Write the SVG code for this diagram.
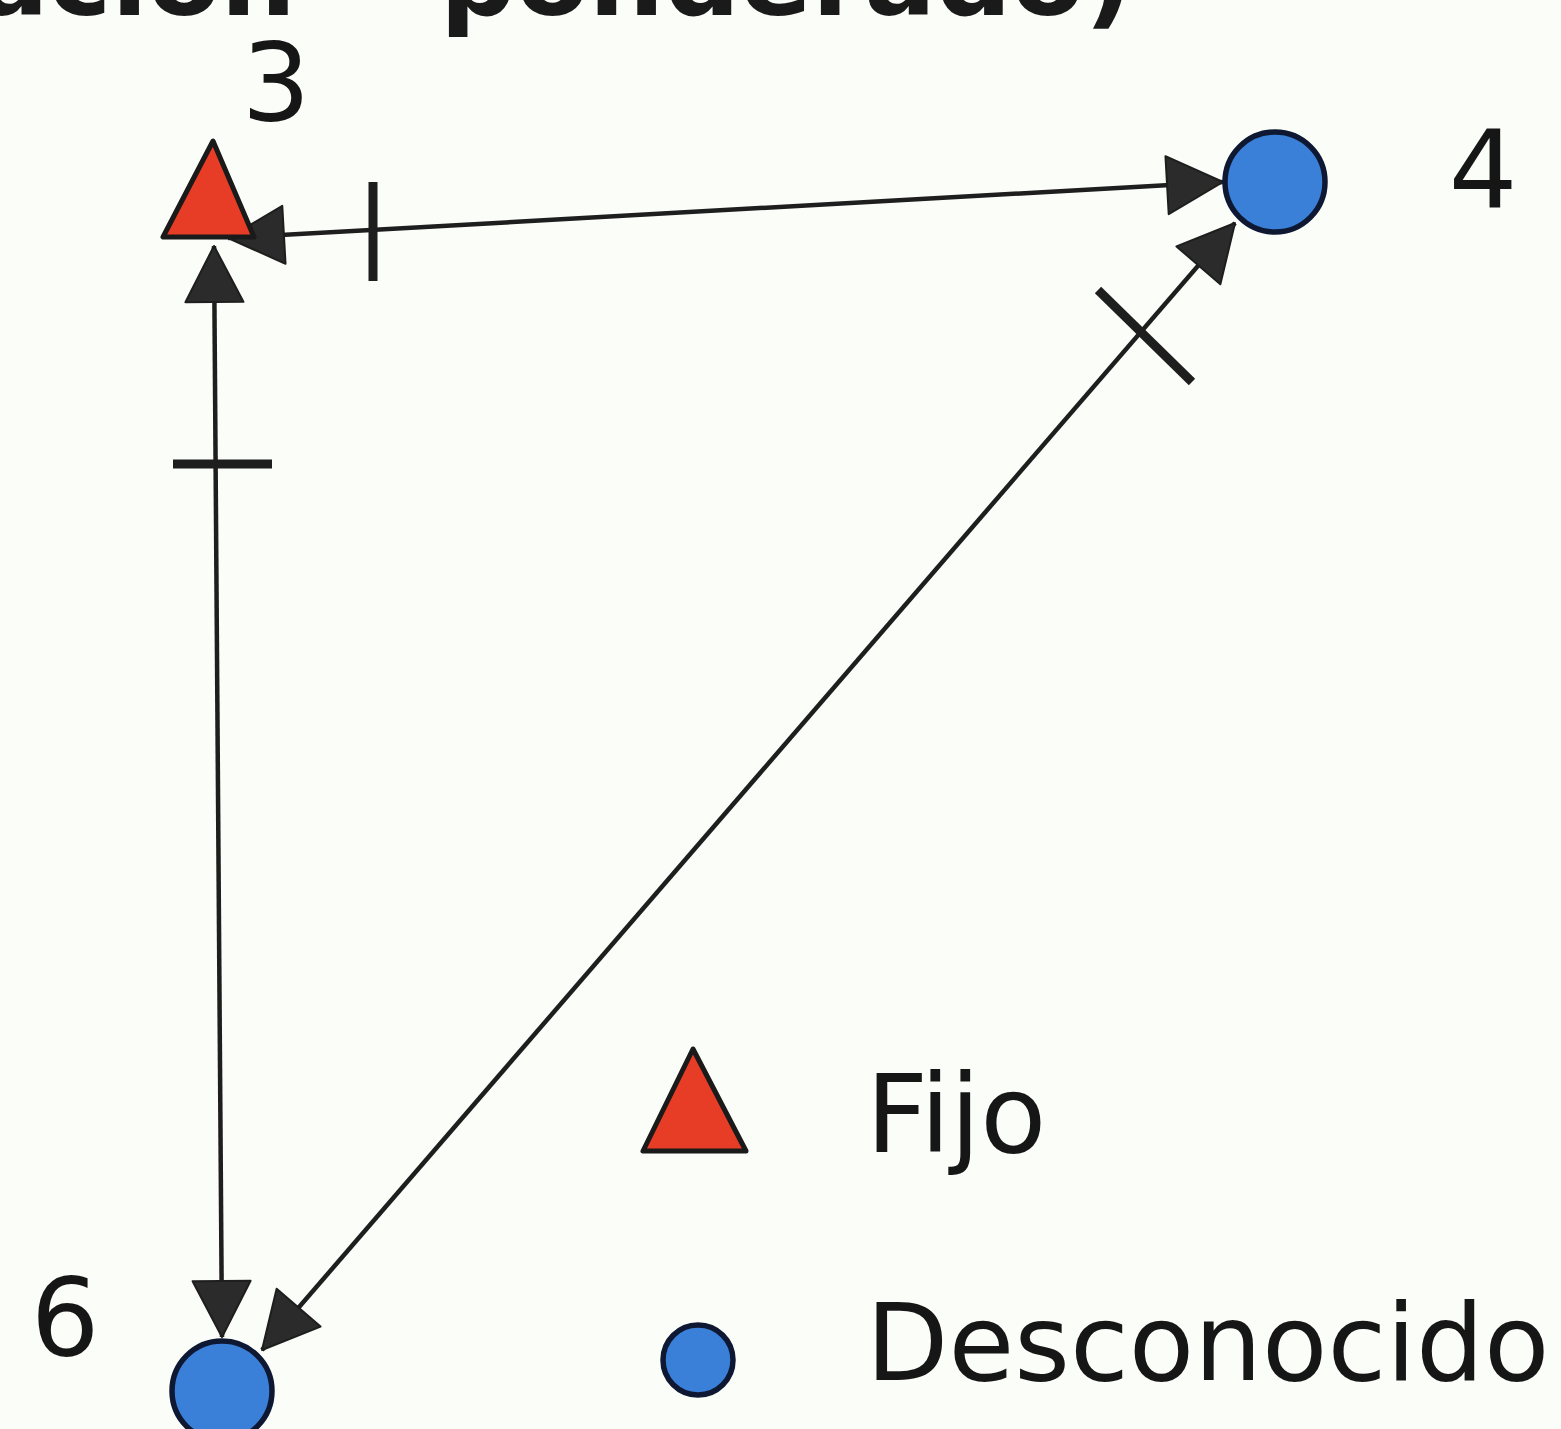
<svg xmlns="http://www.w3.org/2000/svg" width="1561" height="1429" viewBox="0 0 1561 1429">
  <style>
    .title { font-family: "DejaVu Sans", Verdana, sans-serif; font-weight: bold; font-size: 106px; fill: #1a1a1a; }
    .lbl { font-family: "DejaVu Sans", Verdana, sans-serif; font-size: 108px; fill: #161616; }
    .edge { stroke: #1e1e1e; stroke-width: 4.5; fill: none; }
    .tick { stroke: #1e1e1e; stroke-width: 9; fill: none; }
    .fixed { fill: #e73d27; stroke: #1a1a1a; stroke-width: 5; stroke-linejoin: round; }
    .unknown { fill: #3a80d8; stroke: #0f1832; stroke-width: 5.5; }
  </style>
  <defs>
    <marker id="arrow" viewBox="0 0 60 62" refX="58" refY="31" markerWidth="60" markerHeight="62" markerUnits="userSpaceOnUse" orient="auto-start-reverse">
      <path d="M2,2 L58,31 L2,60 Z" fill="#2b2b2b" stroke="#1e1e1e" stroke-width="2" stroke-linejoin="round"/>
    </marker>
  </defs>
  <rect width="1561" height="1429" fill="#fbfdf8"/>

  <g id="title">
    <text class="title" x="296" y="15" text-anchor="end">ación</text>
    <text class="title" x="440" y="15">ponderado)</text>
  </g>

  <g id="connectors">
    <line class="edge" x1="228" y1="238" x2="1223" y2="182" marker-start="url(#arrow)" marker-end="url(#arrow)"/>
    <line class="tick" x1="373" y1="182" x2="373" y2="281"/>
    <line class="edge" x1="214" y1="246" x2="222" y2="1337" marker-start="url(#arrow)" marker-end="url(#arrow)"/>
    <line class="tick" x1="173" y1="464" x2="272" y2="464"/>
    <line class="edge" x1="1235" y1="223" x2="262" y2="1350" marker-start="url(#arrow)" marker-end="url(#arrow)"/>
    <line class="tick" x1="1098" y1="290" x2="1192" y2="382"/>
  </g>

  <g id="node-3">
    <polygon class="fixed" points="213,141 163,237 254,237"/>
    <text class="lbl" x="276" y="120" text-anchor="middle">3</text>
  </g>
  <g id="node-4">
    <circle class="unknown" cx="1275" cy="182" r="50"/>
    <text class="lbl" x="1483" y="208" text-anchor="middle">4</text>
  </g>
  <g id="node-6">
    <circle class="unknown" cx="222" cy="1391" r="50"/>
    <text class="lbl" x="65" y="1355" text-anchor="middle">6</text>
  </g>

  <g id="legend">
    <g id="legend-fijo">
      <polygon class="fixed" points="693,1049 643,1151 746,1151"/>
      <text class="lbl" x="866" y="1152">Fijo</text>
    </g>
    <g id="legend-desconocido">
      <circle class="unknown" cx="698" cy="1360" r="35"/>
      <text class="lbl" x="866" y="1380" style="font-size:107px">Desconocido</text>
    </g>
  </g>
</svg>
